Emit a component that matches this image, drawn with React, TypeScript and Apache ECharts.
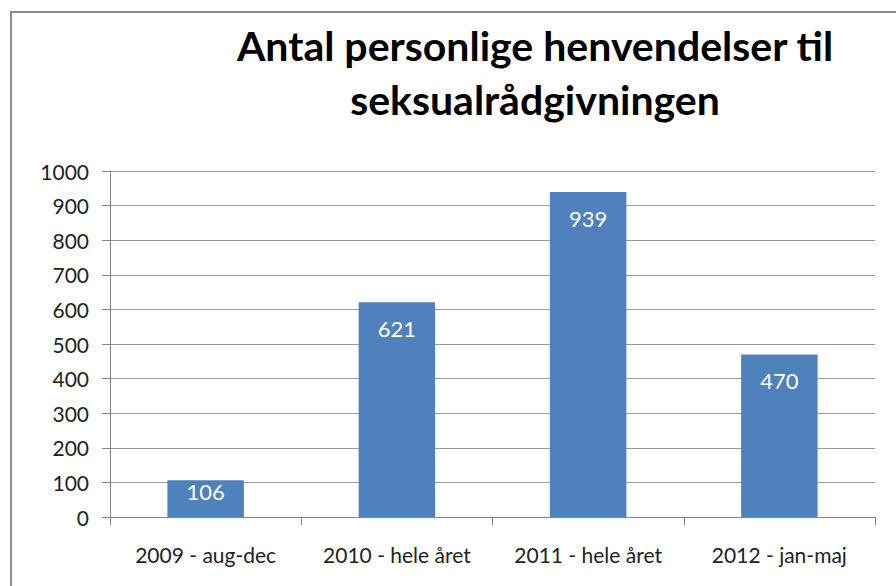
import React, { useEffect, useRef } from "react";
import * as echarts from "echarts";

const categories = ["2009 - aug-dec", "2010 - hele året", "2011 - hele året", "2012 - jan-maj"];
const values = [106, 621, 939, 470];
const titleLines = ["Antal personlige henvendelser til", "seksualrådgivningen"];

const FONT = "Lato, 'Open Sans', sans-serif";

export default function App() {
  const ref = useRef<HTMLDivElement>(null);
  useEffect(() => {
    const chart = echarts.init(ref.current!, null, { renderer: "svg" });
    const barData = values.map((v) =>
      v < 200 ? { value: v, label: { distance: 0 } } : v
    );
    chart.setOption({
      animation: false,
      backgroundColor: "#ffffff",
      textStyle: { fontFamily: FONT },
      graphic: [
        {
          type: "rect",
          shape: { x: 11, y: 12, width: 900, height: 600 },
          style: { fill: "none", stroke: "#8c8c8c", lineWidth: 2 },
          silent: true,
        },
        {
          type: "text",
          x: 535,
          y: 45,
          style: {
            text: titleLines[0],
            font: "bold 41px " + FONT,
            fill: "#000",
            align: "center",
            verticalAlign: "middle",
          },
        },
        {
          type: "text",
          x: 535,
          y: 99,
          style: {
            text: titleLines[1],
            font: "bold 41px " + FONT,
            fill: "#000",
            align: "center",
            verticalAlign: "middle",
          },
        },
      ],
      grid: { left: 110, right: 21, top: 171, bottom: 69, containLabel: false },
      xAxis: {
        type: "category",
        data: categories,
        boundaryGap: true,
        axisLine: { lineStyle: { color: "#868686", width: 1 } },
        axisTick: { show: true, length: 8, alignWithLabel: false, lineStyle: { color: "#868686" } },
        axisLabel: { color: "#222", fontSize: 21, margin: 27, interval: 0, fontFamily: FONT },
      },
      yAxis: {
        type: "value",
        min: 0,
        max: 1000,
        interval: 100,
        axisLine: { show: true, lineStyle: { color: "#868686", width: 1 } },
        axisTick: { show: true, length: 8, lineStyle: { color: "#868686" } },
        splitLine: { show: true, lineStyle: { color: "#9a9a9a", width: 1 } },
        axisLabel: {
          color: "#222",
          fontSize: 21,
          margin: 21,
          fontFamily: FONT,
          formatter: (v: number) => String(v),
        },
      },
      series: [
        {
          type: "bar",
          data: barData,
          barWidth: "40%",
          itemStyle: { color: "#4f81bd" },
          label: {
            show: true,
            position: "insideTop",
            distance: 15,
            color: "#fff",
            fontSize: 22,
            fontFamily: FONT,
          },
        },
      ],
    });
    return () => chart.dispose();
  }, []);
  return <div ref={ref} style={{ width: 896, height: 586, position: "absolute", left: 0, top: 0 }} />;
}
